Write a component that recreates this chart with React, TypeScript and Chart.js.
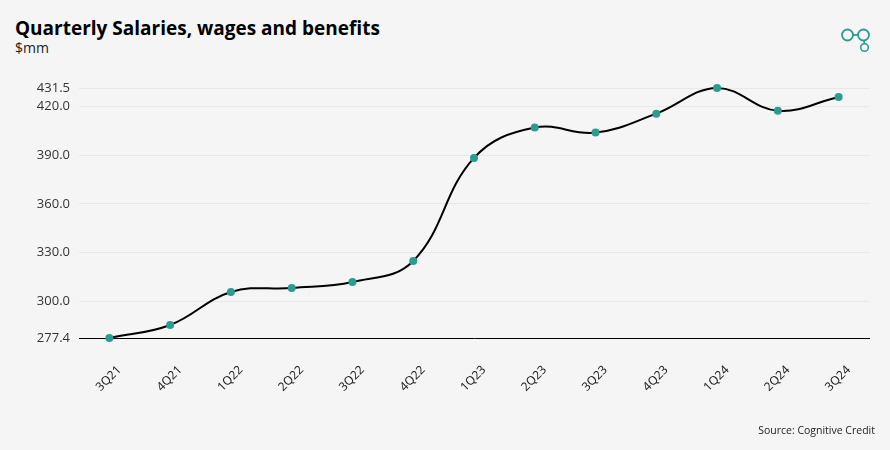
import React, { useEffect, useRef } from "react";
import { Chart, registerables } from "chart.js";

Chart.register(...registerables);

const categories = ["3Q21", "4Q21", "1Q22", "2Q22", "3Q22", "4Q22", "1Q23", "2Q23", "3Q23", "4Q23", "1Q24", "2Q24", "3Q24"];
const salaries = [277.4, 285.4, 305.8, 308.2, 311.9, 324.9, 388.4, 407.1, 404.0, 415.7, 431.5, 417.5, 426.0];
const yTicks = [277.4, 300.0, 330.0, 360.0, 390.0, 420.0, 431.5];

const TEAL = "#2a9d8f";

export default function App() {
  const ref = useRef<HTMLCanvasElement | null>(null);

  useEffect(() => {
    if (!ref.current) return;
    const chart = new Chart(ref.current, {
      type: "line",
      data: {
        labels: categories,
        datasets: [
          {
            label: "Salaries, wages and benefits",
            data: salaries,
            borderColor: "#000000",
            borderWidth: 2,
            tension: 0.4,
            pointRadius: 4,
            pointBackgroundColor: TEAL,
            pointBorderWidth: 0,
            pointBorderColor: TEAL,
            fill: false,
            clip: false,
          } as any,
        ],
      },
      options: {
        animation: false,
        responsive: false,
        maintainAspectRatio: false,
        layout: { padding: { top: 88, left: 15, right: 21, bottom: 0 } },
        plugins: {
          legend: { display: false },
          tooltip: { enabled: false },
          title: { display: false },
        },
        scales: {
          x: {
            offset: true,
            grid: { display: false },
            border: { display: true, color: "#000000", width: 1 },
            ticks: {
              color: "#222222",
              font: { family: "'Noto Sans', 'Open Sans', sans-serif", size: 12 },
              minRotation: 45,
              maxRotation: 45,
              padding: 17,
              labelOffset: 10,
            },
            afterFit: (s: any) => {
              s.height = 112;
            },
          },
          y: {
            min: 277.4,
            max: 431.5,
            grid: { color: "#e8e8e8", lineWidth: 1, drawTicks: false },
            border: { display: false },
            afterBuildTicks: (s: any) => {
              s.ticks = yTicks.map((v) => ({ value: v }));
            },
            ticks: {
              color: "#333333",
              font: { family: "'Open Sans', sans-serif", size: 13 },
              padding: 9,
              callback: (v: any) => Number(v).toFixed(1),
            },
            afterFit: (s: any) => {
              s.width = 64;
            },
          },
        },
      },
    });
    return () => chart.destroy();
  }, []);

  return (
    <div
      style={{
        position: "fixed",
        left: 0,
        top: 0,
        width: 890,
        height: 450,
        background: "#f5f5f5",
        overflow: "hidden",
      }}
    >
      <div
        style={{
          position: "absolute",
          left: 15,
          top: 16,
          fontFamily: "'Open Sans', sans-serif",
          fontWeight: 700,
          fontSize: 19,
          color: "#000",
          lineHeight: "24px",
          whiteSpace: "nowrap",
        }}
      >
        Quarterly Salaries, wages and benefits
      </div>
      <div
        style={{
          position: "absolute",
          left: 15,
          top: 38,
          fontFamily: "'Open Sans', sans-serif",
          fontSize: 14,
          color: "#222",
          lineHeight: "20px",
        }}
      >
        $mm
      </div>
      <svg style={{ position: "absolute", left: 830, top: 20 }} width={50} height={40}>
        <circle cx={17.5} cy={15} r={5.5} fill="none" stroke={TEAL} strokeWidth={1.8} />
        <circle cx={33.5} cy={15} r={5.5} fill="none" stroke={TEAL} strokeWidth={1.8} />
        <line x1={23} y1={15} x2={28} y2={15} stroke={TEAL} strokeWidth={1.8} />
        <circle cx={34.5} cy={27.5} r={3.8} fill="none" stroke={TEAL} strokeWidth={1.6} />
        <line x1={34} y1={20.5} x2={34.3} y2={23.7} stroke={TEAL} strokeWidth={1.6} />
      </svg>
      <canvas ref={ref} width={890} height={450} style={{ position: "absolute", left: 0, top: 0 }} />
      <div
        style={{
          position: "absolute",
          right: 15,
          top: 423,
          fontFamily: "'Open Sans', sans-serif",
          fontSize: 10.5,
          color: "#222",
          whiteSpace: "nowrap",
        }}
      >
        Source: Cognitive Credit
      </div>
    </div>
  );
}
